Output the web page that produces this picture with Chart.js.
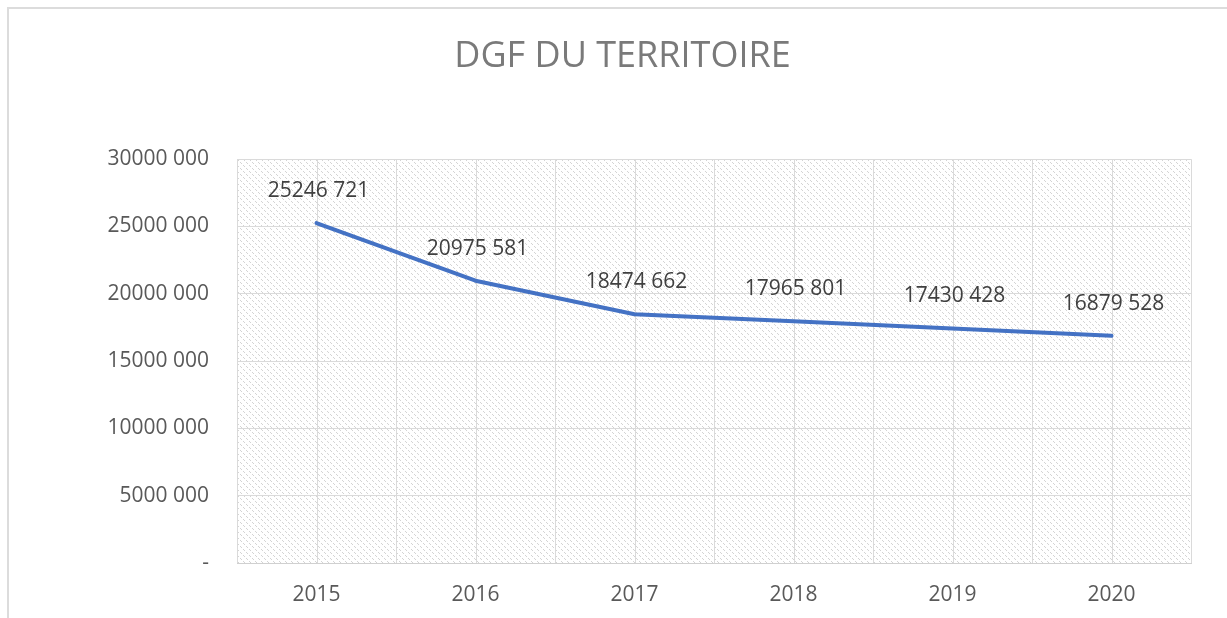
<!DOCTYPE html>
<html>
<head>
<meta charset="utf-8">
<script src="https://cdn.jsdelivr.net/npm/chart.js@4"></script>
<style>
    html, body { margin: 0; padding: 0; background: #fff; overflow: hidden; }
    #frame { position: absolute; left: 7px; top: 7px; width: 1300px; height: 700px; border: 2px solid #dcdcdc; }
    #wrap { position: absolute; left: 0; top: 0; width: 1227px; height: 618px; }
</style>
</head>
<body>
<div id="frame"></div>
<div id="wrap"><canvas id="dgf" width="1227" height="618"></canvas></div>
<script>
var years = ["2015", "2016", "2017", "2018", "2019", "2020"];
var dgf = [25246721, 20975581, 18474662, 17965801, 17430428, 16879528];

// "25246 721" style: only the last group of three is split off
function fmt(v) {
    if (v === 0) return "-";
    var s = String(Math.round(v));
    return s.slice(0, -3) + " " + s.slice(-3);
}

function hatch(ctx) {
    var c = document.createElement("canvas");
    c.width = 6;
    c.height = 6;
    var g = c.getContext("2d");
    g.fillStyle = "#ffffff";
    g.fillRect(0, 0, 6, 6);
    g.fillStyle = "#d4d4d4";
    for (var i = 0; i < 6; i++) {
        if (i % 3 != 2) g.fillRect(i, i, 1, 1);
    }
    return ctx.createPattern(c, "repeat");
}

var plotBg = {
    id: "plotBg",
    beforeDraw: function (chart) {
        var a = chart.chartArea;
        var ctx = chart.ctx;
        ctx.save();
        ctx.fillStyle = hatch(ctx);
        ctx.fillRect(a.left, a.top, a.right - a.left, a.bottom - a.top);
        // extra vertical lines through each category centre
        var x = chart.scales.x;
        ctx.strokeStyle = "#dadada";
        ctx.lineWidth = 1;
        years.forEach(function (y, i) {
            var px = Math.round(x.getPixelForValue(i)) + 0.5;
            ctx.beginPath();
            ctx.moveTo(px, a.top);
            ctx.lineTo(px, a.bottom);
            ctx.stroke();
        });
        ctx.restore();
    },
};

var valueLabels = {
    id: "valueLabels",
    afterDatasetsDraw: function (chart) {
        var ctx = chart.ctx;
        var meta = chart.getDatasetMeta(0);
        ctx.save();
        ctx.font = "21px 'Open Sans'";
        ctx.fillStyle = "#404040";
        ctx.textAlign = "center";
        ctx.textBaseline = "middle";
        meta.data.forEach(function (pt, i) {
            ctx.fillText(fmt(dgf[i]), pt.x + 2, pt.y - 32);
        });
        ctx.restore();
    },
};

new Chart(document.getElementById("dgf").getContext("2d"), {
    type: "line",
    data: {
        labels: years,
        datasets: [
            {
                data: dgf,
                borderColor: "#4472C4",
                borderWidth: 4,
                pointRadius: 0,
                tension: 0,
                borderCapStyle: "round",
                borderJoinStyle: "round",
            },
        ],
    },
    options: {
        responsive: false,
        animation: false,
        layout: { padding: { left: 18, right: 0, top: 0, bottom: 13 } },
        plugins: {
            legend: false,
            tooltip: { enabled: false },
            title: {
                display: true,
                text: "DGF DU TERRITOIRE",
                color: "#7a7a7a",
                font: { family: "'Open Sans'", size: 36, weight: "normal" },
                padding: { top: 35, bottom: 81 },
            },
        },
        scales: {
            x: {
                offset: true,
                grid: { offset: true, color: "#dadada", drawTicks: false },
                border: { color: "#d0d0d0" },
                ticks: {
                    color: "#595959",
                    font: { family: "'Open Sans'", size: 21 },
                    padding: 19,
                },
                afterFit: function (s) { s.height = 42; },
            },
            y: {
                min: 0,
                max: 30000000,
                grid: { color: "#dadada", drawTicks: false },
                border: { display: false },
                ticks: {
                    stepSize: 5000000,
                    color: "#595959",
                    font: { family: "'Open Sans'", size: 21 },
                    padding: 28,
                    callback: function (v) { return fmt(v); },
                },
                afterFit: function (s) { s.width = 219; },
            },
            yRight: {
                type: "linear",
                position: "right",
                grid: { display: false, drawTicks: false },
                border: { display: false },
                ticks: { display: false },
                afterFit: function (s) { s.width = 36; },
            },
        },
    },
    plugins: [plotBg, valueLabels],
});
</script>
</body>
</html>
